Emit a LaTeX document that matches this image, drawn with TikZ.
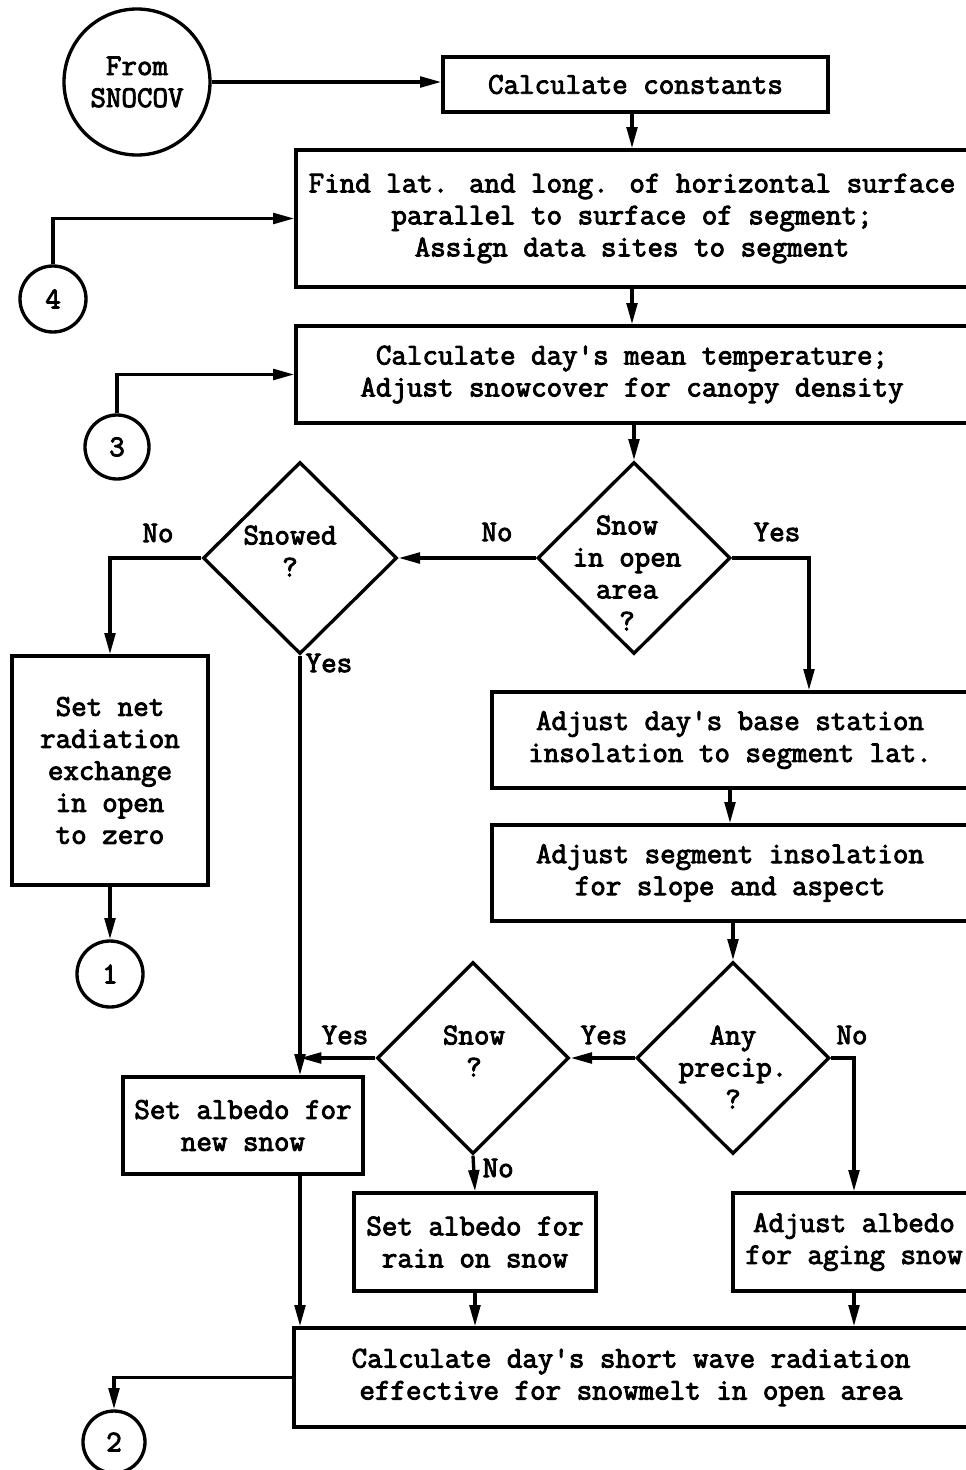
\documentclass[tikz,border=0pt]{standalone}
\usepackage{fontspec}
\newfontfamily\tw{Latin Modern Mono}[FakeBold=3]
\usetikzlibrary{arrows.meta,shapes.geometric}
\begin{document}
\begin{tikzpicture}[x=0.75pt,y=-0.75pt,
  line width=2.5pt,
  every node/.style={font=\tw\fontsize{22.6pt}{24pt}\selectfont, inner sep=0pt},
  proc/.style={draw, rectangle, align=center},
  dec/.style={draw, diamond, aspect=1},
  conn/.style={draw, circle, align=center},
  arr/.style={-{Stealth[length=16pt,width=8pt,inset=0pt]}}]
\clip (0,0) rectangle (966,1470);

% process boxes
\node[conn, minimum size={146*0.75pt}] (from) at (137,82) {From\\SNOCOV};
\node[proc, minimum width={385*0.75pt}, minimum height={55*0.75pt}] (calc) at (635.5,84.5) {Calculate constants};
\node[proc, minimum width={672*0.75pt}, minimum height={137*0.75pt}] (find) at (632,218.5)
  {Find lat. and long. of horizontal surface\\parallel to surface of segment;\\Assign data sites to segment};
\node[proc, minimum width={672*0.75pt}, minimum height={97*0.75pt}] (mean) at (632,374.5)
  {Calculate day's mean temperature;\\Adjust snowcover for canopy density};
\node[conn, minimum size={66*0.75pt}] (c4) at (53,299) {4};
\node[conn, minimum size={64*0.75pt}] (c3) at (117,447) {3};

% first decisions
\node[dec, minimum width={194*0.75pt}, minimum height={192*0.75pt}] (snowed) at (300,558) {};
\node (tsnowed) at (290,551) [align=center] {Snowed\\?};
\node[dec, minimum width={193*0.75pt}, minimum height={192*0.75pt}] (open) at (634,558) {};
\node (topen) at (627,573) [align=center] {Snow\\in open\\area\\?};

\node[proc, minimum width={196*0.75pt}, minimum height={229*0.75pt}] (setnet) at (110,770.5)
  {Set net\\radiation\\exchange\\in open\\to zero};
\node[conn, minimum size={66*0.75pt}] (c1) at (110,974) {1};

\node[proc, minimum width={476*0.75pt}, minimum height={96*0.75pt}] (base) at (730,740)
  {Adjust day's base station\\insolation to segment lat.};
\node[proc, minimum width={476*0.75pt}, minimum height={96*0.75pt}] (slope) at (730,873)
  {Adjust segment insolation\\for slope and aspect};

% albedo decisions
\node[dec, minimum width={193*0.75pt}, minimum height={192*0.75pt}] (precip) at (733,1058) {};
\node (tprecip) at (733,1067) [align=center] {Any\\precip.\\?};
\node[dec, minimum width={192*0.75pt}, minimum height={192*0.75pt}] (snowq) at (473,1058) {};
\node (tsnowq) at (474,1051) [align=center] {Snow\\?};

\node[proc, minimum width={240*0.75pt}, minimum height={97*0.75pt}] (newsnow) at (243,1125.5)
  {Set albedo for\\new snow};
\node[proc, minimum width={242*0.75pt}, minimum height={98*0.75pt}] (rain) at (475,1242)
  {Set albedo for\\rain on snow};
\node[proc, minimum width={242*0.75pt}, minimum height={98*0.75pt}] (aging) at (854,1242)
  {Adjust albedo\\for aging snow};
\node[proc, minimum width={674*0.75pt}, minimum height={99*0.75pt}] (short) at (631,1377.5)
  {Calculate day's short wave radiation\\effective for snowmelt in open area};
\node[conn, minimum size={62*0.75pt}] (c2) at (114,1442) {2};

% branch labels
\node (lno1) at (497,532) {No};
\node (lyes1) at (777,532) {Yes};
\node (lno2) at (158,533) {No};
\node[anchor=west] (lyes2) at (304,663) {Yes};
\node (lyes3) at (604,1035) {Yes};
\node (lno3) at (852,1035) {No};
\node (lyes4) at (345,1035) {Yes};
\node[anchor=west] (lno4) at (481,1168) {No};

% bends
\coordinate (kyes) at (809,558);

% connectors
\draw[arr] (from.east |- 0,82) -- (calc.west |- 0,82);
\draw[arr] (calc.south -| find.north) -- (find.north);
\draw[arr] (c4.north) |- (find.west);
\draw[arr] (find.south) -- (mean.north);
\draw[arr] (c3.north) |- (mean.west);
\draw[arr] (mean.south -| open.north) -- (open.north);
\draw[arr] (open.west) -- (snowed.east);
\draw[arr] (snowed.west) -| (setnet.north);
\draw[arr] (open.east) -- (kyes) -- (kyes |- base.north);
\draw[arr] (setnet.south) -- (c1.north);
\draw[arr] (snowed.south) -- (snowed.south |- newsnow.north);
\draw[arr] (base.south) -- (slope.north);
\draw[arr] (slope.south -| precip.north) -- (precip.north);
\draw[arr] (precip.west) -- (snowq.east);
\draw[arr] (precip.east) -| (aging.north);
\draw[arr] (snowq.west) -- (snowq.west -| snowed.south);
\draw[arr] (snowq.south) -- (rain.north);
\draw[arr] (newsnow.south -| snowed.south) -- (snowed.south |- short.north);
\draw[arr] (rain.south) -- (rain.south |- short.north);
\draw[arr] (aging.south) -- (aging.south |- short.north);
\draw[arr] (short.west) -| (c2.north);
\end{tikzpicture}
\end{document}
